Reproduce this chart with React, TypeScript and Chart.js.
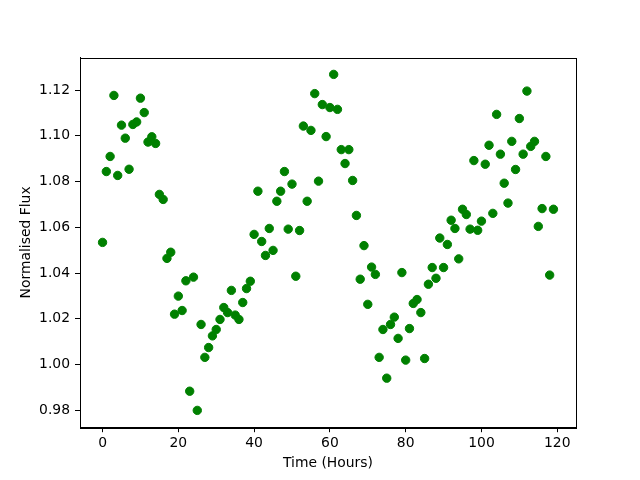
import React, { useEffect, useRef } from "react";
import { Chart, registerables } from "chart.js";

Chart.register(...registerables);

const hours: number[] = Array.from({ length: 120 }, (_, i) => i);

const flux: number[] = [
  1.0534, 1.0844, 1.0910, 1.1177, 1.0827, 1.1047, 1.0990, 1.0854, 1.1050, 1.1061,
  1.1165, 1.1102, 1.0973, 1.0996, 1.0967, 1.0744, 1.0722, 1.0464, 1.0491, 1.0220,
  1.0299, 1.0236, 1.0366, 0.9883, 1.0382, 0.9799, 1.0175, 1.0031, 1.0074, 1.0125,
  1.0153, 1.0197, 1.0249, 1.0227, 1.0324, 1.0216, 1.0197, 1.0271, 1.0332, 1.0364,
  1.0569, 1.0758, 1.0538, 1.0477, 1.0595, 1.0499, 1.0714, 1.0758, 1.0844, 1.0592,
  1.0789, 1.0386, 1.0586, 1.1043, 1.0714, 1.1024, 1.1185, 1.0802, 1.1137, 1.0997,
  1.1124, 1.1269, 1.1116, 1.0940, 1.0879, 1.0940, 1.0805, 1.0652, 1.0373, 1.0520,
  1.0263, 1.0426, 1.0394, 1.0031, 1.0153, 0.9940, 1.0175, 1.0207, 1.0114, 1.0402,
  1.0019, 1.0157, 1.0267, 1.0284, 1.0227, 1.0026, 1.0351, 1.0424, 1.0377, 1.0553,
  1.0424, 1.0525, 1.0631, 1.0595, 1.0462, 1.0679, 1.0656, 1.0592, 1.0892, 1.0587,
  1.0627, 1.0876, 1.0959, 1.0661, 1.1094, 1.0920, 1.0793, 1.0706, 1.0976, 1.0853,
  1.1076, 1.0920, 1.1196, 1.0954, 1.0976, 1.0604, 1.0682, 1.0910, 1.0391, 1.0679,
];

const xTicks: number[] = [0, 20, 40, 60, 80, 100, 120];
const yTicks: number[] = [0.98, 1.0, 1.02, 1.04, 1.06, 1.08, 1.1, 1.12];

const FONT = { family: "'DejaVu Sans', sans-serif", size: 13.9 };

const framePlugin = {
  id: "frame",
  afterDraw(chart: any) {
    const { ctx, chartArea } = chart;
    ctx.save();
    ctx.strokeStyle = "#000";
    ctx.lineWidth = 1;
    ctx.strokeRect(
      Math.round(chartArea.left) + 0.5,
      Math.round(chartArea.top) + 0.5,
      Math.round(chartArea.right - chartArea.left),
      Math.round(chartArea.bottom - chartArea.top)
    );
    ctx.restore();
  },
};

export default function App() {
  const ref = useRef<HTMLCanvasElement | null>(null);

  useEffect(() => {
    if (!ref.current) return;
    const xmin = 0, xmax = 119;
    const dx = (xmax - xmin) * 0.05;
    const ymin = Math.min(...flux), ymax = Math.max(...flux);
    const dy = (ymax - ymin) * 0.05;
    const chart = new Chart(ref.current, {
      type: "scatter",
      data: {
        datasets: [
          {
            data: hours.map((h, i) => ({ x: h, y: flux[i] })),
            backgroundColor: "#008000",
            borderColor: "#008000",
            borderWidth: 1,
            pointRadius: 4.2,
          },
        ],
      },
      options: {
        responsive: false,
        animation: false,
        layout: { padding: { left: 0, top: 57.6, right: 64, bottom: 0 } },
        plugins: { legend: { display: false }, tooltip: { enabled: false } },
        scales: {
          x: {
            type: "linear",
            min: xmin - dx,
            max: xmax + dx,
            afterFit: (s: any) => { s.height = 52.8; },
            afterBuildTicks: (s: any) => { s.ticks = xTicks.map((v) => ({ value: v })); },
            grid: { display: true, drawOnChartArea: false, drawTicks: true, tickLength: 5, tickWidth: 1, tickColor: "#000" },
            border: { display: true, color: "#000", width: 1 },
            ticks: { color: "#000", font: FONT, padding: 3, maxRotation: 0, callback: (v: any) => String(v) },
            title: { display: true, text: "Time (Hours)", color: "#000", font: FONT, padding: { top: 0, bottom: 8.7 } },
          },
          y: {
            type: "linear",
            min: ymin - dy,
            max: ymax + dy,
            afterFit: (s: any) => { s.width = 80; },
            afterBuildTicks: (s: any) => { s.ticks = yTicks.map((v) => ({ value: v })); },
            grid: { display: true, drawOnChartArea: false, drawTicks: true, tickLength: 5, tickWidth: 1, tickColor: "#000" },
            border: { display: true, color: "#000", width: 1 },
            ticks: { color: "#000", font: FONT, padding: 5, callback: (v: any) => Number(v).toFixed(2) },
            title: { display: true, text: "Normalised Flux", color: "#000", font: FONT, padding: { top: 18.5, bottom: 0 } },
          },
        },
      },
      plugins: [framePlugin],
    });
    return () => chart.destroy();
  }, []);

  return (
    <div style={{ position: "fixed", left: 0, top: 0, width: 640, height: 480, background: "#fff" }}>
      <canvas ref={ref} width={640} height={480} style={{ width: 640, height: 480 }} />
    </div>
  );
}
